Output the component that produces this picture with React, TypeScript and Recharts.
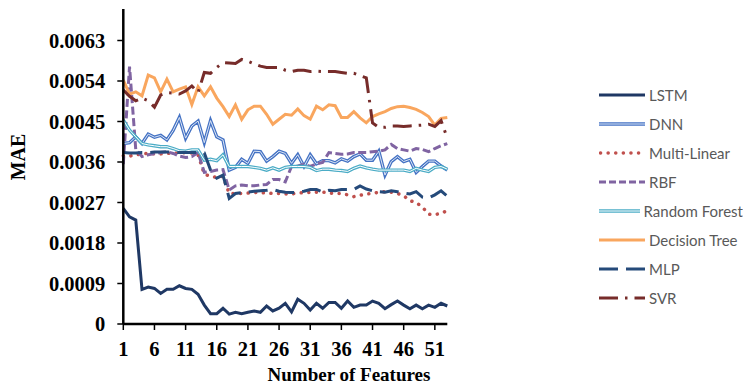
import { LineChart, Line, XAxis, YAxis, Legend } from 'recharts';

const FEATURES = [1, 2, 3, 4, 5, 6, 7, 8, 9, 10, 11, 12, 13, 14, 15, 16, 17, 18, 19, 20, 21, 22, 23, 24, 25, 26, 27, 28, 29, 30, 31, 32, 33, 34, 35, 36, 37, 38, 39, 40, 41, 42, 43, 44, 45, 46, 47, 48, 49, 50, 51, 52, 53];
const X_TICKS = [1, 6, 11, 16, 21, 26, 31, 36, 41, 46, 51];
const Y_TICKS = [0, 0.0009, 0.0018, 0.0027, 0.0036, 0.0045, 0.0054, 0.0063];

const LSTM = [0.00257, 0.00238, 0.00231, 0.00077, 0.00082, 0.00079, 0.00068, 0.00077, 0.00077, 0.00085, 0.00079, 0.00077, 0.00066, 0.00042, 0.00023, 0.00023, 0.00035, 0.00022, 0.00026, 0.00023, 0.00026, 0.00029, 0.00026, 0.0004, 0.00029, 0.00035, 0.00046, 0.00027, 0.00055, 0.00046, 0.00031, 0.00046, 0.00035, 0.00048, 0.00048, 0.00035, 0.00051, 0.00037, 0.00042, 0.00042, 0.00051, 0.00046, 0.00034, 0.00043, 0.00051, 0.00042, 0.00034, 0.00042, 0.00034, 0.00042, 0.00037, 0.00046, 0.0004];
const DNN = [0.00401, 0.00403, 0.00416, 0.00401, 0.00422, 0.00415, 0.00419, 0.00409, 0.0043, 0.00459, 0.00413, 0.0044, 0.00451, 0.00403, 0.00452, 0.00416, 0.00409, 0.00342, 0.00348, 0.00366, 0.00357, 0.00384, 0.00383, 0.00362, 0.00372, 0.00384, 0.00379, 0.00357, 0.00376, 0.0035, 0.00376, 0.00356, 0.00363, 0.00363, 0.00358, 0.00367, 0.00362, 0.00372, 0.00378, 0.00364, 0.00364, 0.00384, 0.00331, 0.00361, 0.00372, 0.00361, 0.00366, 0.00337, 0.0035, 0.00362, 0.00362, 0.00351, 0.00342];
const MULTI_LINEAR = [0.00374, 0.00373, 0.00376, 0.00378, 0.00379, 0.00378, 0.00378, 0.00379, 0.0038, 0.0038, 0.00381, 0.0038, 0.00376, 0.00333, 0.00328, 0.00326, 0.00328, 0.0029, 0.0029, 0.0029, 0.00291, 0.00292, 0.00292, 0.00291, 0.0029, 0.0029, 0.00289, 0.00289, 0.00291, 0.00292, 0.00292, 0.00293, 0.00293, 0.00291, 0.0029, 0.0029, 0.00287, 0.00283, 0.00286, 0.00289, 0.0029, 0.00293, 0.00294, 0.00293, 0.0029, 0.00285, 0.00274, 0.0027, 0.0026, 0.00244, 0.00243, 0.00246, 0.00252];
const RBF = [0.00355, 0.00572, 0.00388, 0.00372, 0.00376, 0.00379, 0.00381, 0.00383, 0.00379, 0.00373, 0.0037, 0.00372, 0.00381, 0.00337, 0.00339, 0.00342, 0.00343, 0.00298, 0.00307, 0.00309, 0.00307, 0.00307, 0.00309, 0.0031, 0.00321, 0.00321, 0.00316, 0.0035, 0.00351, 0.00355, 0.0035, 0.00356, 0.00359, 0.00381, 0.00379, 0.00377, 0.00378, 0.00381, 0.00381, 0.00381, 0.00383, 0.00384, 0.00387, 0.00399, 0.0039, 0.00387, 0.00384, 0.0039, 0.00388, 0.00383, 0.0039, 0.00396, 0.00401];
const RANDOM_FOREST = [0.00453, 0.00431, 0.00416, 0.00401, 0.00398, 0.00396, 0.00394, 0.00394, 0.0039, 0.00385, 0.00384, 0.00387, 0.00387, 0.00364, 0.00366, 0.00363, 0.00376, 0.0035, 0.0035, 0.0035, 0.0035, 0.00348, 0.00346, 0.00342, 0.00347, 0.00342, 0.00348, 0.0035, 0.0035, 0.0035, 0.00348, 0.00341, 0.00344, 0.00344, 0.00342, 0.00341, 0.00339, 0.00346, 0.00351, 0.00347, 0.00344, 0.00342, 0.00342, 0.00342, 0.00342, 0.00342, 0.00339, 0.00346, 0.00342, 0.00339, 0.00348, 0.0035, 0.00344];
const DECISION_TREE = [0.00542, 0.00511, 0.00516, 0.00507, 0.00553, 0.00547, 0.00516, 0.00544, 0.00516, 0.00522, 0.00527, 0.00488, 0.00527, 0.00507, 0.00527, 0.00502, 0.00483, 0.00461, 0.00487, 0.00455, 0.00476, 0.00484, 0.00484, 0.00466, 0.00444, 0.00455, 0.00466, 0.00464, 0.00478, 0.00463, 0.00455, 0.00484, 0.00476, 0.00487, 0.00485, 0.00459, 0.00459, 0.00472, 0.00458, 0.00447, 0.00461, 0.00467, 0.00472, 0.00479, 0.00483, 0.00484, 0.00481, 0.00477, 0.0047, 0.00461, 0.00442, 0.00457, 0.00459];
const MLP = [0.00381, 0.0038, 0.0038, 0.00381, 0.00381, 0.00382, 0.00382, 0.00382, 0.00382, 0.00381, 0.00381, 0.00381, 0.00381, 0.0038, 0.00342, 0.00324, 0.00331, 0.00279, 0.0029, 0.00292, 0.00293, 0.00295, 0.00296, 0.00297, 0.00299, 0.00295, 0.00293, 0.00292, 0.00293, 0.00295, 0.00299, 0.00299, 0.00293, 0.00297, 0.00296, 0.00299, 0.00299, 0.00299, 0.00307, 0.003, 0.00296, 0.00294, 0.00293, 0.00296, 0.00294, 0.00291, 0.00289, 0.00294, 0.00282, 0.0028, 0.00287, 0.00296, 0.00284];
const SVR = [0.0052, 0.00506, 0.00496, 0.00502, 0.00496, 0.00482, 0.00509, 0.00514, 0.00513, 0.00511, 0.00518, 0.00529, 0.00514, 0.00559, 0.00557, 0.0057, 0.00581, 0.0058, 0.00579, 0.00588, 0.00584, 0.00578, 0.00573, 0.0057, 0.0057, 0.0057, 0.00564, 0.00561, 0.00564, 0.00564, 0.00561, 0.00562, 0.00561, 0.00561, 0.00561, 0.00559, 0.00557, 0.00557, 0.00552, 0.00547, 0.00447, 0.00437, 0.00437, 0.0044, 0.0044, 0.00439, 0.0044, 0.00441, 0.00442, 0.00444, 0.00439, 0.00452, 0.00413];

const rows = FEATURES.map((n, i) => ({
  n,
  lstm: LSTM[i],
  dnn: DNN[i],
  ml: MULTI_LINEAR[i],
  rbf: RBF[i],
  rf: RANDOM_FOREST[i],
  dt: DECISION_TREE[i],
  mlp: MLP[i],
  svr: SVR[i],
}));

const serif = '"Liberation Serif", "Times New Roman", serif';

const legendItems = [
  { name: 'LSTM', color: '#1F3864', width: 3 },
  { name: 'DNN', color: '#4472C4', width: 3.4, inner: '#DCE6F5' },
  { name: 'Multi-Linear', color: '#C0504D', width: 3.5, dash: '0.1 7.5', cap: 'round' },
  { name: 'RBF', color: '#8064A2', width: 3, dash: '7 3' },
  { name: 'Random Forest', color: '#4BACC6', width: 3.4, inner: '#FFFFFF' },
  { name: 'Decision Tree', color: '#F9A65E', width: 3 },
  { name: 'MLP', color: '#254A7A', width: 3, dash: '19 8' },
  { name: 'SVR', color: '#772C2A', width: 3, dash: '19 7 2.5 7' },
];

const renderLegend = () => (
  <div style={{ fontFamily: 'Lato, "Open Sans", sans-serif', fontSize: 15, color: '#595959', whiteSpace: 'nowrap' }}>
    {legendItems.map((it) => (
      <div key={it.name} style={{ height: 29, display: 'flex', alignItems: 'center' }}>
        <svg width={46} height={10} style={{ display: 'block' }}>
          <line
            x1={it.cap ? 1.5 : 0}
            x2={46}
            y1={5}
            y2={5}
            stroke={it.color}
            strokeWidth={it.width}
            strokeDasharray={it.dash}
            strokeLinecap={it.cap === 'round' ? 'round' : 'butt'}
          />
          {it.inner && <line x1={0} x2={46} y1={5} y2={5} stroke={it.inner} strokeWidth={1} />}
        </svg>
        <span style={{ marginLeft: 4 }}>{it.name}</span>
      </div>
    ))}
  </div>
);

const fmtY = (v: number) => (v === 0 ? '0' : v.toFixed(4));

export default function App() {
  return (
    <div>
      <style>{`body{margin:0}`}</style>
      <LineChart
        width={743}
        height={385}
        data={rows}
        margin={{ top: 9, right: 151.7, left: 23.3, bottom: 0 }}
      >
        <XAxis
          dataKey="n"
          type="number"
          domain={[1, 53]}
          ticks={X_TICKS}
          interval={0}
          height={61}
          tickSize={6}
          tickMargin={11}
          axisLine={{ stroke: '#000', strokeWidth: 2.5 }}
          tickLine={{ stroke: '#000', strokeWidth: 1.5 }}
          tick={{ fill: '#000', fontFamily: serif, fontWeight: 'bold', fontSize: 20.5 }}
          label={{
            content: () => (
              <text x={349} y={381} textAnchor="middle" fontFamily={serif} fontWeight="bold" fontSize={19} fill="#000">
                Number of Features
              </text>
            ),
          }}
        />
        <YAxis
          type="number"
          domain={[0, 0.007]}
          ticks={Y_TICKS}
          interval={0}
          width={100}
          tickSize={6}
          tickMargin={12}
          tickFormatter={fmtY}
          axisLine={{ stroke: '#000', strokeWidth: 2.5 }}
          tickLine={{ stroke: '#000', strokeWidth: 1.5 }}
          tick={{ fill: '#000', fontFamily: serif, fontWeight: 'bold', fontSize: 20.5 }}
          label={{
            content: () => (
              <text x={25} y={157} transform="rotate(-90, 25, 157)" textAnchor="middle" fontFamily={serif} fontWeight="bold" fontSize={20} fill="#000">
                MAE
              </text>
            ),
          }}
        />
        <Legend
          layout="horizontal"
          verticalAlign="middle"
          align="right"
          content={renderLegend}
          wrapperStyle={{ left: 599, top: 80.5, width: 144, height: 232 }}
        />
        <Line dataKey="lstm" stroke="#1F3864" strokeWidth={3} dot={false} activeDot={false} isAnimationActive={false} />
        <Line dataKey="dnn" stroke="#4472C4" strokeWidth={3.4} dot={false} activeDot={false} isAnimationActive={false} />
        <Line dataKey="dnn" stroke="#DCE6F5" strokeWidth={1} dot={false} activeDot={false} isAnimationActive={false} legendType="none" />
        <Line dataKey="ml" stroke="#C0504D" strokeWidth={3.5} strokeDasharray="0.1 7.5" strokeLinecap="round" dot={false} activeDot={false} isAnimationActive={false} />
        <Line dataKey="rbf" stroke="#8064A2" strokeWidth={3} strokeDasharray="8 3.5" dot={false} activeDot={false} isAnimationActive={false} />
        <Line dataKey="rf" stroke="#4BACC6" strokeWidth={3.4} dot={false} activeDot={false} isAnimationActive={false} />
        <Line dataKey="rf" stroke="#FFFFFF" strokeWidth={1} dot={false} activeDot={false} isAnimationActive={false} legendType="none" />
        <Line dataKey="dt" stroke="#F9A65E" strokeWidth={3} dot={false} activeDot={false} isAnimationActive={false} />
        <Line dataKey="mlp" stroke="#254A7A" strokeWidth={3} strokeDasharray="19 8" dot={false} activeDot={false} isAnimationActive={false} />
        <Line dataKey="svr" stroke="#772C2A" strokeWidth={3} strokeDasharray="19 7 2.5 7" dot={false} activeDot={false} isAnimationActive={false} />
      </LineChart>
    </div>
  );
}
